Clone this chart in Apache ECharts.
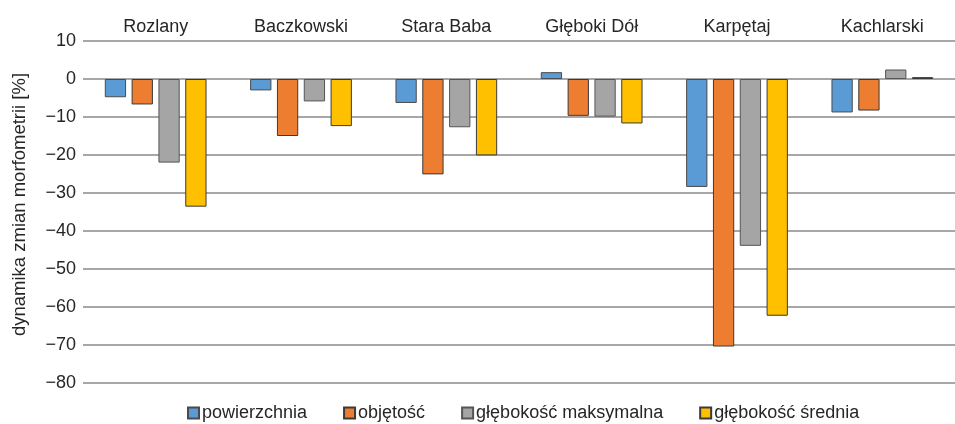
<!DOCTYPE html>
<html>
<head>
<meta charset="utf-8">
<script src="https://cdn.jsdelivr.net/npm/echarts@6/dist/echarts.min.js"></script>
<style>html,body{margin:0;padding:0;background:#fff}#c{width:955px;height:424px}</style>
</head>
<body>
<div id="c"></div>
<script>
const categories = ['Rozlany', 'Baczkowski', 'Stara Baba', 'Głęboki Dół', 'Karpętaj', 'Kachlarski'];
const seriesNames = ['powierzchnia', 'objętość', 'głębokość maksymalna', 'głębokość średnia'];
const powierzchnia = [-4.8, -3.0, -6.3, 1.8, -28.4, -8.8];
const objetosc = [-6.7, -15.0, -25.1, -9.7, -70.4, -8.3];
const glebokoscMaks = [-22.0, -5.9, -12.7, -9.9, -43.9, 2.5];
const glebokoscSred = [-33.6, -12.4, -20.1, -11.7, -62.3, 0.5];
const yTicks = {min: -80, max: 10, interval: 10};

const colors = ['#5B9BD5', '#ED7D31', '#A5A5A5', '#FFC000'];
const borders = ['#4a4a4a', '#3a3a3a', '#555555', '#3a3a3a'];
const dataSets = [powierzchnia, objetosc, glebokoscMaks, glebokoscSred];

const chart = echarts.init(document.getElementById('c'), null, {renderer: 'canvas'});
chart.setOption({
  animation: false,
  textStyle: {fontFamily: 'Liberation Sans, Arial, sans-serif'},
  grid: {left: 83, right: 0, top: 41, bottom: 41, containLabel: false, outerBoundsMode: 'none'},
  legend: {
    top: 399, left: 182,
    itemWidth: 11, itemHeight: 11, itemGap: 36,
    icon: 'rect',
    textStyle: {fontSize: 18, color: '#262626', padding: [0, 0, 0, -2]},
    data: seriesNames
  },
  xAxis: {
    type: 'category', position: 'top', data: categories,
    axisLine: {show: false}, axisTick: {show: false},
    axisLabel: {fontSize: 18, color: '#262626', margin: 5}
  },
  yAxis: {
    type: 'value', min: yTicks.min, max: yTicks.max, interval: yTicks.interval,
    name: 'dynamika zmian morfometrii [%]', nameLocation: 'middle', nameGap: 54,
    nameTextStyle: {fontSize: 18.5, color: '#262626', padding: [0, 0, 0, 15]},
    axisLine: {show: false}, axisTick: {show: false},
    axisLabel: {fontSize: 18, color: '#262626', margin: 7,
      formatter: v => String(v).replace('-', '\u2212')},
    splitLine: {lineStyle: {color: '#8a8a8a', width: 1.5}}
  },
  series: dataSets.map((d, i) => ({
    name: seriesNames[i], type: 'bar', data: d,
    barGap: '26%', barCategoryGap: '30%',
    itemStyle: {color: colors[i], borderColor: borders[i], borderWidth: 1}
  }))
});
</script>
</body>
</html>
